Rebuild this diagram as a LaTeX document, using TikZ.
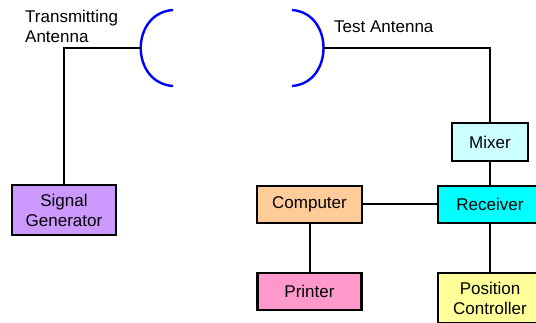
\documentclass[tikz,border=0pt]{standalone}
\usepackage{fontspec}
\setmainfont{Liberation Sans}
\definecolor{sgviolet}{HTML}{CC99FF}
\definecolor{peach}{HTML}{FFCC99}
\definecolor{rxcyan}{HTML}{00FFFF}
\definecolor{mixcyan}{HTML}{CCFFFF}
\definecolor{prpink}{HTML}{FF99CC}
\definecolor{pcyellow}{HTML}{FFFF99}
\definecolor{antblue}{HTML}{0000FF}
\begin{document}
\begin{tikzpicture}[x=1pt,y=-1pt,
  every node/.style={font=\fontsize{17}{20}\selectfont},
  block/.style={draw=black, line width=2.4pt, align=center, inner sep=0pt,
    minimum width=104pt, minimum height=37pt},
  wire/.style={line width=2pt, black},
  dish/.style={line width=2.4pt, antblue}]
\fill[white] (0,0) rectangle (536,323);
\clip (0,0) rectangle (536,323);

% antennas
\draw[dish] (173,10) .. controls (130,13) and (130,83) .. (173,86);
\draw[dish] (292,10) .. controls (334,13) and (334,83) .. (292,86);
\coordinate (txant) at (141,48);
\coordinate (rxant) at (323,48);

\node[anchor=west, align=left, inner sep=0pt] (txlabel) at (25,26) {Transmitting\\Antenna};
\node[anchor=west, inner sep=0pt] (rxlabel) at (334,27) {Test Antenna};

% blocks
\node[block, fill=sgviolet, minimum height=50pt] (siggen) at (64,210) {Signal\\Generator};
\node[block, fill=peach, minimum width=105pt] (computer) at (309.5,204.5) {Computer};
\node[block, fill=rxcyan] (receiver) at (490,204.5) {Receiver};
\node[block, fill=mixcyan, minimum width=76pt, minimum height=38pt] (mixer) at (490,142) {Mixer};
\node[block, fill=prpink] (printer) at (309.5,291.5) {Printer};
\node[block, fill=pcyellow, minimum height=50pt] (posctrl) at (490,298) {Position\\Controller};

% connections
\draw[wire] (txant) -| (siggen.north);
\draw[wire] (rxant) -| (mixer.north);
\draw[wire] (mixer.south) -- (receiver.north);
\draw[wire] (computer.east) -- (receiver.west);
\draw[wire] (computer.south) -- (printer.north);
\draw[wire] (receiver.south) -- (posctrl.north);
\end{tikzpicture}
\end{document}
